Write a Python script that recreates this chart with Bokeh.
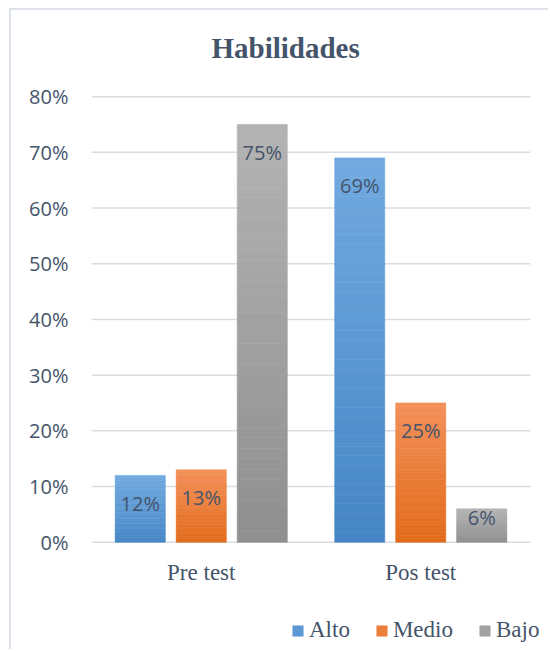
from bokeh.plotting import figure
from bokeh.models import (Range1d, ColumnDataSource, FixedTicker,
                          NumeralTickFormatter, Legend, LegendItem)
from bokeh.core.properties import value
from bokeh.embed import file_html
from bokeh.resources import INLINE

# ---- data ----
categories = ["Pre test", "Pos test"]
series = ["Alto", "Medio", "Bajo"]
alto = [0.12, 0.69]
medio = [0.13, 0.25]
bajo = [0.75, 0.06]
y_ticks = [0.0, 0.1, 0.2, 0.3, 0.4, 0.5, 0.6, 0.7, 0.8]

# gradient colours (bottom, top) per series
grad = {
    "Alto": ("#4586c6", "#72aae0"),
    "Medio": ("#e26b1a", "#f3905a"),
    "Bajo": ("#8f8f8f", "#b3b3b3"),
}
TEXT = "#44546a"
GRID = "#d9dde3"

def hex2rgb(h):
    h = h.lstrip("#")
    return tuple(int(h[i:i + 2], 16) for i in (0, 2, 4))

def lerp(c0, c1, t):
    a, b = hex2rgb(c0), hex2rgb(c1)
    return "#%02x%02x%02x" % tuple(round(a[i] + (b[i] - a[i]) * t) for i in range(3))

W, H = 539, 641
MB_LEFT, MB_RIGHT = 80, 2
MB_TOP, MB_BOTTOM = 75, 2
FRAME_W = W - MB_LEFT - MB_RIGHT
FRAME_H = H - MB_TOP - MB_BOTTOM
PX_PER_UNIT = 557.0          # vertical scale: pixels per 100 %
PX_PER_CAT = 219.5           # horizontal scale: pixels per category
Y_END = 0.82
Y_START = Y_END - FRAME_H / PX_PER_UNIT
X_END = FRAME_W / PX_PER_CAT
n_cat = len(categories)
cat_x = [i + 0.5 for i in range(n_cat)]

p = figure(x_range=Range1d(0, X_END), y_range=Range1d(Y_START, Y_END),
           width=W, height=H, output_backend="svg", toolbar_location=None,
           min_border_left=MB_LEFT, min_border_right=MB_RIGHT, min_border_top=MB_TOP,
           min_border_bottom=MB_BOTTOM,
           styles={"border-left": "2px solid #dde2e8", "border-top": "2px solid #dde2e8",
                   "margin-left": "9px", "margin-top": "8px"})
p.outline_line_color = None
p.background_fill_color = "white"
p.border_fill_color = "white"

p.title.text = "Habilidades"
p.title.text_font = "Liberation Serif"
p.title.text_font_style = "bold"
p.title.text_font_size = "29px"
p.title.text_color = TEXT
p.title.align = "left"
p.title.offset = 120
p.title.standoff = 41
p.title.vertical_align = "middle"

# horizontal grid lines spanning the category area only
p.segment(x0=[0] * len(y_ticks), x1=[n_cat] * len(y_ticks), y0=y_ticks, y1=y_ticks,
          line_color=GRID, line_width=1.5)

N = 40
offsets = [-0.278, 0.0, 0.278]
data = {"Alto": alto, "Medio": medio, "Bajo": bajo}
renderers = {}
for s, off in zip(series, offsets):
    xs, bots, tops, cols = [], [], [], []
    c0, c1 = grad[s]
    for cx, v in zip(cat_x, data[s]):
        for k in range(N):
            xs.append(cx + off)
            bots.append(v * k / N)
            tops.append(v * (k + 1) / N)
            cols.append(lerp(c0, c1, (k + 0.5) / N))
    src = ColumnDataSource(dict(x=xs, bottom=bots, top=tops, color=cols))
    r = p.vbar(x="x", bottom="bottom", top="top", width=0.228,
               source=src, fill_color="color", line_color="color", line_width=0.6)
    renderers[s] = r

    # label sits inside the bar end; on short bars it is pushed up to the bar top
    yoff = [min(28, v * PX_PER_UNIT - 25) for v in data[s]]
    lsrc = ColumnDataSource(dict(x=[cx + off for cx in cat_x], y=data[s], yo=yoff,
                                 t=["%d%%" % round(v * 100) for v in data[s]]))
    p.text(x="x", y="y", text="t", source=lsrc,
           text_align="center", text_baseline="middle", y_offset="yo",
           text_font=value("Open Sans"), text_font_size="20px", text_color=TEXT)

# category labels under the baseline
csrc = ColumnDataSource(dict(x=cat_x, y=[0.0] * n_cat, t=categories))
p.text(x="x", y="y", text="t", source=csrc, text_align="center",
       text_baseline="alphabetic", y_offset=30,
       text_font=value("Liberation Serif"), text_font_size="23px", text_color=TEXT)

# axes
p.xaxis.visible = False
p.yaxis.ticker = FixedTicker(ticks=y_ticks)
p.yaxis.formatter = NumeralTickFormatter(format="0%")
p.yaxis.axis_line_color = None
p.yaxis.major_tick_line_color = None
p.yaxis.minor_tick_line_color = None
p.yaxis.major_label_text_color = TEXT
p.yaxis.major_label_text_font = "Open Sans"
p.yaxis.major_label_text_font_size = "20px"
p.yaxis.major_label_standoff = 17

p.xgrid.grid_line_color = None
p.ygrid.grid_line_color = None

legend = Legend(items=[LegendItem(label=s, renderers=[renderers[s]], index=N // 2) for s in series],
                orientation="horizontal", location=(200, 6),
                glyph_width=13, glyph_height=13, label_standoff=5, spacing=25,
                padding=0, margin=0, border_line_color=None, background_fill_alpha=0,
                label_text_font="Liberation Serif", label_text_font_size="23px",
                label_text_color=TEXT)
p.add_layout(legend, "center")

open("out.html", "w").write(file_html(p, INLINE))
